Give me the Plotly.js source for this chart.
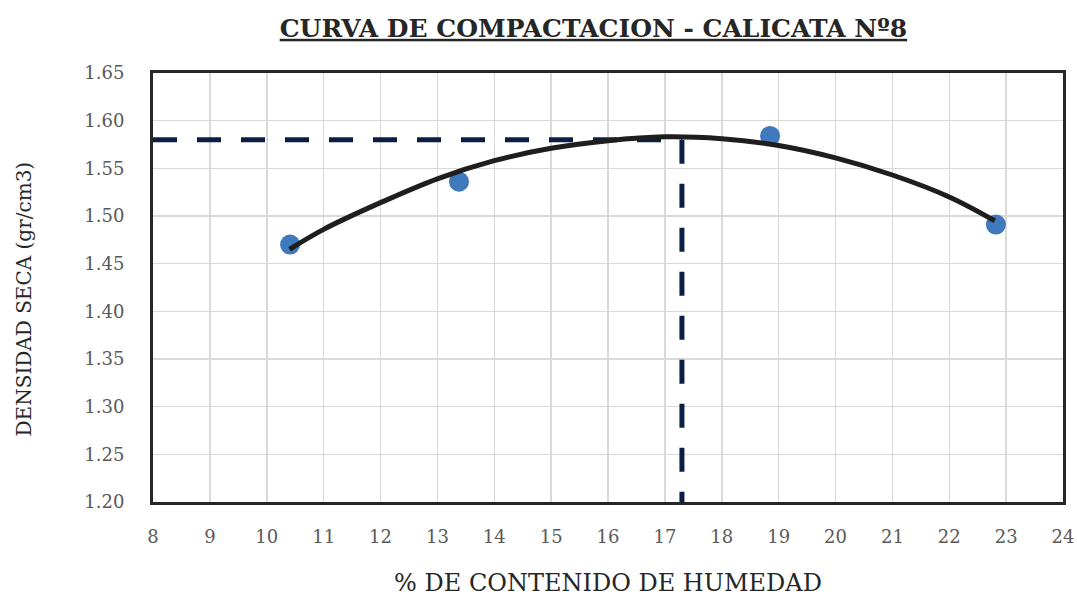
<!DOCTYPE html>
<html>
<head>
<meta charset="utf-8">
<script src="https://cdn.plot.ly/plotly-3.0.1.min.js"></script>
<style>html,body{margin:0;padding:0;background:#fff;}#chart{width:1077px;height:597px;}</style>
</head>
<body>
<div id="chart"></div>
<script>
// Measured points
const humedad = [10.41, 13.38, 18.85, 22.82];
const densidad = [1.470, 1.536, 1.584, 1.491];

// Trend curve
const curvaX = [10.4, 11, 12, 13, 14, 15, 16, 17, 18, 19, 20, 21, 22, 22.8];
const curvaY = [1.465, 1.486, 1.514, 1.539, 1.558, 1.571, 1.579, 1.583, 1.581, 1.574, 1.561, 1.543, 1.520, 1.495];

// Optimum (dashed guides)
const optHumedad = 17.3;
const maxDensidad = 1.58;
const xMin = 8, xMax = 24, yMin = 1.20, yMax = 1.65;

const xTicks = [8,9,10,11,12,13,14,15,16,17,18,19,20,21,22,23,24];
const yTicks = [1.20,1.25,1.30,1.35,1.40,1.45,1.50,1.55,1.60,1.65];

const serif = "DejaVu Serif, Liberation Serif, serif";
const dashColor = "#0b1f45";

const traces = [
  {x: [xMin, optHumedad], y: [maxDensidad, maxDensidad], mode: 'lines',
   line: {color: dashColor, width: 5, dash: '24px,20px'}, hoverinfo: 'skip', showlegend: false},
  {x: [optHumedad, optHumedad], y: [maxDensidad, yMin], mode: 'lines',
   line: {color: dashColor, width: 5, dash: '24px,20px'}, hoverinfo: 'skip', showlegend: false},
  {x: humedad, y: densidad, mode: 'markers',
   marker: {color: '#4179bd', size: 20}, showlegend: false},
  {x: curvaX, y: curvaY, mode: 'lines',
   line: {color: '#1e1e1e', width: 5, shape: 'spline'}, showlegend: false}
];

const layout = {
  width: 1077, height: 597,
  paper_bgcolor: '#ffffff', plot_bgcolor: '#ffffff',
  margin: {l: 153, r: 14, t: 73, b: 95},
  showlegend: false,
  title: {text: '<b><u>CURVA DE COMPACTACION - CALICATA Nº8</u></b>',
          font: {family: serif, size: 25, color: '#262626'},
          x: 0.551, xanchor: 'center', y: 0.953, yanchor: 'middle'},
  xaxis: {
    range: [xMin, xMax], tickvals: xTicks, ticktext: xTicks.map(String),
    showgrid: true, gridcolor: '#d9d9d9', gridwidth: 1.5,
    zeroline: false, showline: true, mirror: true, linecolor: '#262626', linewidth: 3,
    ticks: '', ticklabelstandoff: 16,
    tickfont: {family: serif, size: 18, color: '#595959'},
    title: {text: '% DE CONTENIDO DE HUMEDAD', font: {family: serif, size: 24, color: '#262626'}, standoff: 40}
  },
  yaxis: {
    range: [yMin, yMax], tickvals: yTicks, ticktext: yTicks.map(v => v.toFixed(2)),
    showgrid: true, gridcolor: '#d9d9d9', gridwidth: 1.5,
    zeroline: false, showline: true, mirror: true, linecolor: '#262626', linewidth: 3,
    ticks: '', ticklabelstandoff: 22,
    tickfont: {family: serif, size: 18, color: '#595959'}
  },
  annotations: [{
    text: 'DENSIDAD SECA (gr/cm3)', textangle: -90, showarrow: false,
    xref: 'paper', yref: 'paper', x: -0.1407, y: 0.4744, xanchor: 'center', yanchor: 'middle',
    font: {family: serif, size: 20, color: '#262626'}
  }]
};

Plotly.newPlot('chart', traces, layout, {displayModeBar: false, staticPlot: true});
</script>
</body>
</html>
